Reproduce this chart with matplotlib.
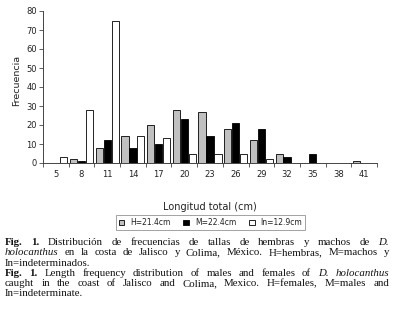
import matplotlib
matplotlib.use("Agg")
import matplotlib.pyplot as plt
from matplotlib.patches import Patch
import numpy as np

categories = [5, 8, 11, 14, 17, 20, 23, 26, 29, 32, 35, 38, 41]
hembras = [0, 2, 8, 14, 20, 28, 27, 18, 12, 5, 0, 0, 1]
machos = [0, 1, 12, 8, 10, 23, 14, 21, 18, 3, 5, 0, 0]
indeterminados = [3, 28, 75, 14, 13, 5, 5, 5, 2, 0, 0, 0, 0]
series_labels = ["H=21.4cm", "M=22.4cm", "In=12.9cm"]
yticks = [0, 10, 20, 30, 40, 50, 60, 70, 80]

W, H = 393, 324
fig = plt.figure(figsize=(W / 100, H / 100), dpi=100)
fig.patch.set_facecolor("white")

def fx(px):
    return px / W

def fy(py):
    return 1 - py / H

ax = fig.add_axes([fx(43), fy(163), fx(377) - fx(43), fy(11) - fy(163)])
x = np.arange(len(categories))
colors = ["#c0c0c0", "#000000", "#ffffff"]
offs = [-0.31, 0.0, 0.31]
for vals, c, o, lab in zip([hembras, machos, indeterminados], colors, offs, series_labels):
    ax.bar(x + o, vals, width=0.28, color=c, edgecolor="#000000", linewidth=0.6, label=lab, zorder=2)

ax.set_xlim(-0.5, len(categories) - 0.5)
ax.set_ylim(0, 80)
ax.set_yticks(yticks)
ax.set_yticklabels([str(v) for v in yticks])
ax.set_xticks(x)
ax.set_xticklabels([str(c) for c in categories])
ax.set_xticks(np.arange(len(categories) + 1) - 0.5, minor=True)
ax.tick_params(axis="x", which="major", length=0, pad=5, labelsize=6, colors="#222222")
ax.tick_params(axis="x", which="minor", length=3, width=0.6, color="#444444", direction="out")
ax.tick_params(axis="y", length=3, width=0.6, color="#444444", pad=1.5, labelsize=6, labelcolor="#222222")
for s in ["top", "right"]:
    ax.spines[s].set_visible(False)
for s in ["left", "bottom"]:
    ax.spines[s].set_color("#444444")
    ax.spines[s].set_linewidth(0.7)
ax.set_ylabel("Frecuencia", fontsize=6.8, color="#222222")
ax.yaxis.set_label_coords(-0.066, 0.54)
fig.text(fx(210), fy(207), "Longitud total (cm)", fontsize=7, ha="center", va="center", color="#222222")

handles = [Patch(facecolor=c, edgecolor="#000000", linewidth=0.6) for c in colors]
leg = fig.legend(handles, series_labels, loc="center", bbox_to_anchor=(fx(210.5), fy(222.5)),
                 ncol=3, fontsize=5.5, frameon=True, fancybox=False, handlelength=0.7, handleheight=0.7,
                 handletextpad=0.8, columnspacing=1.7, borderpad=0.35, labelcolor="#222222")
leg.get_frame().set_edgecolor("#777777")
leg.get_frame().set_linewidth(0.6)

# caption, justified
cap_lines = [
    ([("Fig.", "bold"), ("1.", "bold"), ("Distribución", "normal"), ("de", "normal"), ("frecuencias", "normal"),
      ("de", "normal"), ("tallas", "normal"), ("de", "normal"), ("hembras", "normal"), ("y", "normal"),
      ("machos", "normal"), ("de", "normal"), ("D.", "italic")], True),
    ([("holocanthus", "italic"), ("en", "normal"), ("la", "normal"), ("costa", "normal"), ("de", "normal"),
      ("Jalisco", "normal"), ("y", "normal"), ("Colima,", "normal"), ("México.", "normal"), ("H=hembras,", "normal"),
      ("M=machos", "normal"), ("y", "normal")], True),
    ([("In=indeterminados.", "normal")], False),
    ([("Fig.", "bold"), ("1.", "bold"), ("Length", "normal"), ("frequency", "normal"), ("distribution", "normal"),
      ("of", "normal"), ("males", "normal"), ("and", "normal"), ("females", "normal"), ("of", "normal"),
      ("D.", "italic"), ("holocanthus", "italic")], True),
    ([("caught", "normal"), ("in", "normal"), ("the", "normal"), ("coast", "normal"), ("of", "normal"),
      ("Jalisco", "normal"), ("and", "normal"), ("Colima,", "normal"), ("Mexico.", "normal"), ("H=females,", "normal"),
      ("M=males", "normal"), ("and", "normal")], True),
    ([("In=indeterminate.", "normal")], False),
]
baselines = [245, 255.3, 265.6, 275.9, 286.2, 296.5]
left_px, right_px = 5, 389
fs = 7.8
renderer = fig.canvas.get_renderer()
for (words, justify), base in zip(cap_lines, baselines):
    objs = []
    for w, style in words:
        kw = dict(fontsize=fs, family="Liberation Serif", va="baseline", ha="left", color="#111111")
        if style == "bold":
            kw["fontweight"] = "bold"
        elif style == "italic":
            kw["fontstyle"] = "italic"
        t = fig.text(0, fy(base), w, **kw)
        objs.append(t)
    widths = [t.get_window_extent(renderer).width for t in objs]
    space_nat = 2.2
    if justify and len(objs) > 1:
        gap = (right_px - left_px - sum(widths)) / (len(objs) - 1)
    else:
        gap = space_nat
    xpos = left_px
    for t, wdt in zip(objs, widths):
        t.set_x(fx(xpos))
        xpos += wdt + gap

fig.savefig("out.png", dpi=100, facecolor="white")
